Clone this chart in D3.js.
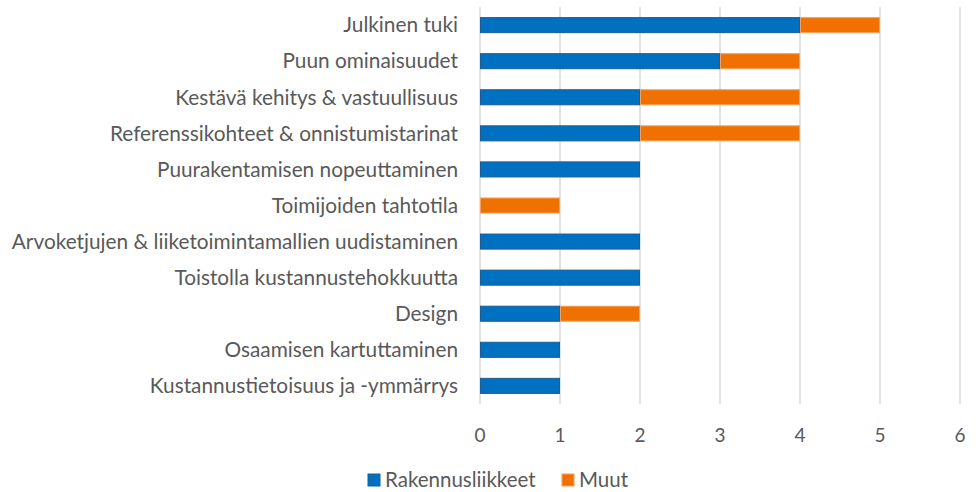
<!DOCTYPE html>
<html>
<head>
<meta charset="utf-8">
<script src="https://cdn.jsdelivr.net/npm/d3@7"></script>
<style>
  body { margin: 0; background: #fff; }
  text { font-family: Lato, "Open Sans", "Liberation Sans", sans-serif; fill: #595959; }
</style>
</head>
<body>
<script>
var categories = [
    "Julkinen tuki",
    "Puun ominaisuudet",
    "Kestävä kehitys & vastuullisuus",
    "Referenssikohteet & onnistumistarinat",
    "Puurakentamisen nopeuttaminen",
    "Toimijoiden tahtotila",
    "Arvoketjujen & liiketoimintamallien uudistaminen",
    "Toistolla kustannustehokkuutta",
    "Design",
    "Osaamisen kartuttaminen",
    "Kustannustietoisuus ja -ymmärrys"
];
var rakennusliikkeet = [4, 3, 2, 2, 2, 0, 2, 2, 1, 1, 1];
var muut = [1, 1, 2, 2, 0, 1, 0, 0, 1, 0, 0];
var seriesNames = ["Rakennusliikkeet", "Muut"];
var xTicks = [0, 1, 2, 3, 4, 5, 6];

var colors = ["#0070C0", "#F07000"];
var strokes = ["#1C5C94", "#F5A060"];

var width = 976, height = 492;
var margin = {left: 480, right: 16, top: 7, bottom: 88};
var plotW = width - margin.left - margin.right;
var plotH = height - margin.top - margin.bottom;

var rows = categories.map(function(c, i){
    return {cat: c, values: [rakennusliikkeet[i], muut[i]]};
});

var svg = d3.select("body").append("svg")
    .attr("width", width)
    .attr("height", height);

var g = svg.append("g")
    .attr("transform", "translate(" + margin.left + "," + margin.top + ")");

var xScale = d3.scaleLinear()
    .domain([0, 6])
    .range([0, 480]);

var yScale = d3.scaleBand()
    .domain(categories)
    .range([0, plotH])
    .paddingInner(0.555)
    .paddingOuter(0.28);

// gridlines
g.append("g")
    .selectAll("line")
    .data(xTicks)
    .enter()
    .append("line")
    .attr("x1", function(d){ return xScale(d); })
    .attr("x2", function(d){ return xScale(d); })
    .attr("y1", 0)
    .attr("y2", plotH)
    .attr("stroke", "#d9d9d9")
    .attr("stroke-width", 1.5);

// bars
var stack = d3.stack()
    .keys([0, 1])
    .value(function(d, k){ return d.values[k]; });
var stacked = stack(rows);

g.append("g")
    .selectAll("g")
    .data(stacked)
    .enter()
    .append("g")
    .attr("fill", function(d){ return colors[d.key]; })
    .attr("stroke", function(d){ return strokes[d.key]; })
    .selectAll("rect")
    .data(function(d){ return d.filter(function(p){ return p[1] > p[0]; }); })
    .enter()
    .append("rect")
    .attr("x", function(d){ return xScale(d[0]) + 0.5; })
    .attr("y", function(d){ return yScale(d.data.cat) + 0.5; })
    .attr("width", function(d){ return xScale(d[1]) - xScale(d[0]) - 1; })
    .attr("height", yScale.bandwidth() - 1)
    .attr("stroke-width", 1);

// category labels
g.append("g")
    .selectAll("text")
    .data(categories)
    .enter()
    .append("text")
    .text(function(d){ return d; })
    .attr("x", -22)
    .attr("y", function(d){ return yScale(d) + yScale.bandwidth() / 2; })
    .attr("dy", "0.35em")
    .attr("text-anchor", "end")
    .style("font-size", "20.8px");

// x tick labels
g.append("g")
    .selectAll("text")
    .data(xTicks)
    .enter()
    .append("text")
    .text(function(d){ return d; })
    .attr("x", function(d){ return xScale(d); })
    .attr("y", plotH + 31)
    .attr("dy", "0.35em")
    .attr("text-anchor", "middle")
    .style("font-size", "19px");

// legend
var legend = svg.append("g")
    .attr("transform", "translate(368," + 480 + ")");
var legendX = [0, 194];
seriesNames.forEach(function(name, i){
    legend.append("rect")
        .attr("x", legendX[i])
        .attr("y", -6)
        .attr("width", 12)
        .attr("height", 12)
        .attr("fill", colors[i])
        .attr("stroke", strokes[i]);
    legend.append("text")
        .text(name)
        .attr("x", legendX[i] + 17)
        .attr("y", 0)
        .attr("dy", "0.35em")
        .style("font-size", "20.5px");
});
</script>
</body>
</html>
